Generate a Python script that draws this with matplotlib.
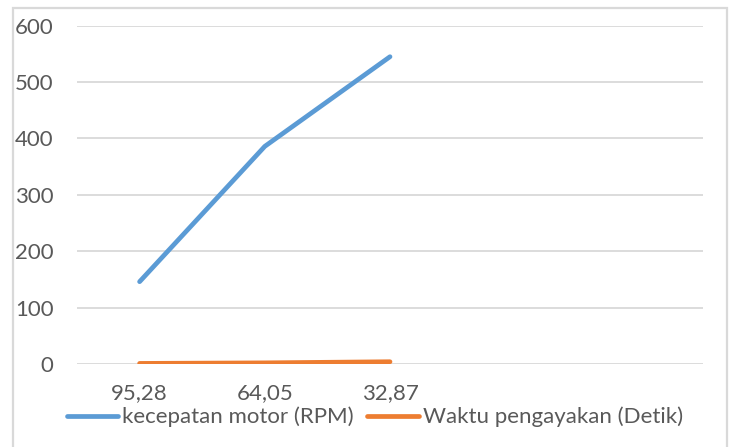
import matplotlib.pyplot as plt
from matplotlib.patches import Rectangle

# chart data
categories = ["95,28", "64,05", "32,87", "", ""]
rpm = [146, 386, 545]
detik = [1, 2, 4]
series_names = ["kecepatan motor (RPM)", "Waktu pengayakan (Detik)"]
yticks = [0, 100, 200, 300, 400, 500, 600]

plt.rcParams['font.family'] = ['Lato', 'DejaVu Sans']
text_col = '#595959'
grid_col = '#d9d9d9'

fig = plt.figure(figsize=(7.31, 4.47), dpi=100)
ax = fig.add_axes([77 / 731, 1 - 364 / 447, 626 / 731, (364 - 25.7) / 447])

# outer chart border
fig.patches.append(Rectangle((13 / 731, -0.05), (727 - 13) / 731, 1.05 - 8 / 447,
                             transform=fig.transFigure, fill=False,
                             edgecolor=grid_col, linewidth=1.6))

x = list(range(len(categories)))
ax.plot(x[:len(rpm)], rpm, color='#5b9bd5', linewidth=3.4,
        solid_capstyle='round', solid_joinstyle='round', label=series_names[0])
ax.plot(x[:len(detik)], detik, color='#ed7d31', linewidth=3.4,
        solid_capstyle='round', solid_joinstyle='round', label=series_names[1])

ax.set_xlim(-0.5, len(categories) - 0.5)
ax.set_ylim(0, 600)
ax.set_xticks(x)
ax.set_xticklabels(categories)
ax.set_yticks(yticks)
ax.yaxis.grid(True, color=grid_col, linewidth=1.3)
ax.set_axisbelow(True)
for s in ax.spines.values():
    s.set_visible(False)
ax.tick_params(axis='both', length=0, labelsize=16, labelcolor=text_col)
ax.tick_params(axis='y', pad=17)
ax.tick_params(axis='x', pad=14)

fig.legend(loc='center', bbox_to_anchor=(375 / 731, 1 - 417 / 447), ncol=2,
           frameon=False, fontsize=16, labelcolor=text_col, handlelength=2.3,
           handletextpad=0.2, columnspacing=0.6)

fig.savefig('out.png', dpi=100)
